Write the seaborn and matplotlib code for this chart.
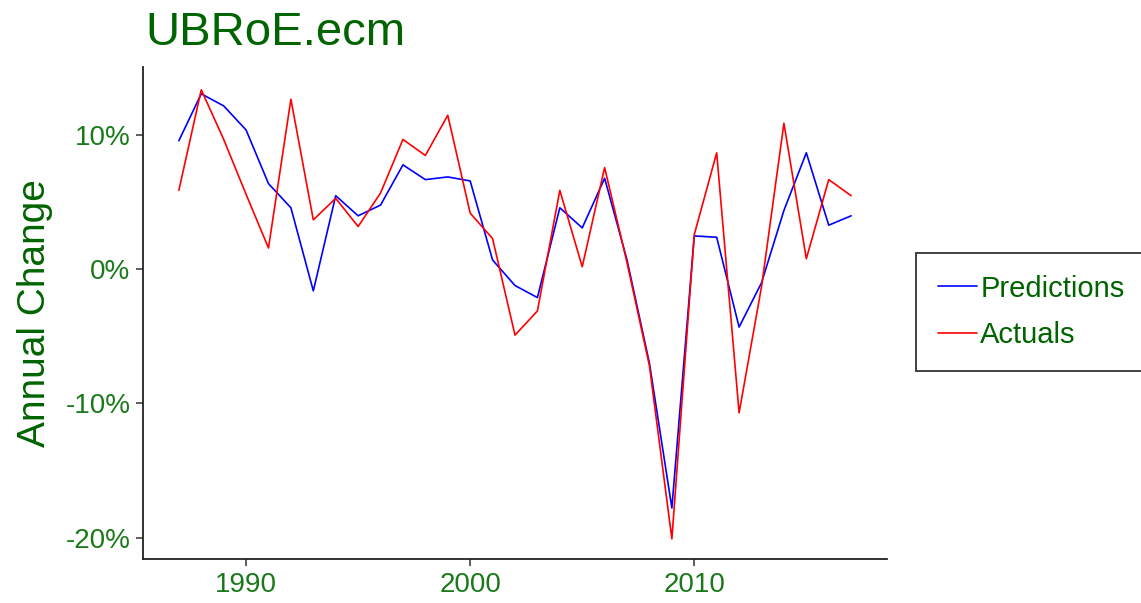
import numpy as np
import pandas as pd
import matplotlib
matplotlib.use("Agg")
import matplotlib.pyplot as plt
import matplotlib.ticker as mticker
import seaborn as sns
from matplotlib.lines import Line2D

years = list(range(1987, 2018))
predictions = [9.6, 13.1, 12.2, 10.4, 6.4, 4.6, -1.6, 5.5, 4.0, 4.8,
               7.8, 6.7, 6.9, 6.6, 0.7, -1.2, -2.1, 4.6, 3.1, 6.8,
               0.7, -7.0, -17.8, 2.5, 2.4, -4.3, -1.0, 4.4, 8.7, 3.3, 4.0]
actuals = [5.9, 13.4, 9.7, 5.6, 1.6, 12.7, 3.7, 5.3, 3.2, 5.7,
           9.7, 8.5, 11.5, 4.2, 2.3, -4.9, -3.1, 5.9, 0.2, 7.6,
           0.5, -7.2, -20.1, 2.6, 8.7, -10.7, -1.3, 10.9, 0.8, 6.7, 5.5]
series_names = ["Predictions", "Actuals"]
y_ticks = [-20, -10, 0, 10]

df = pd.DataFrame({
    "Year": years * 2,
    "Value": predictions + actuals,
    "Series": [series_names[0]] * len(years) + [series_names[1]] * len(years),
})

sns.set_theme(style="white")
plt.rcParams['font.family'] = ['Liberation Sans', 'DejaVu Sans']

title_green = "#006400"
tick_green = "#1a7a1a"

fig = plt.figure(figsize=(11.41, 6.03), dpi=100)
ax = fig.add_axes([143 / 1141, 44 / 603, (887 - 143) / 1141, (559 - 67) / 603])

sns.lineplot(data=df, x="Year", y="Value", hue="Series",
             palette={"Predictions": "blue", "Actuals": "red"},
             hue_order=series_names, linewidth=1.2, ax=ax, legend=False)

ax.set_xlim(1985.4, 2018.6)
ax.set_ylim(-21.6, 15.1)
ax.set_xticks([1990, 2000, 2010])
ax.set_yticks(y_ticks)
ax.yaxis.set_major_formatter(mticker.FuncFormatter(lambda v, p: f"{int(v)}%"))

for s in ["top", "right"]:
    ax.spines[s].set_visible(False)
for s in ["left", "bottom"]:
    ax.spines[s].set_color("#222222")
    ax.spines[s].set_linewidth(1.3)

ax.tick_params(axis="both", which="major", direction="out", length=5, width=1.1,
               color="#333333", labelsize=20, labelcolor=tick_green, pad=4,
               bottom=True, left=True)

ax.set_xlabel("")
ax.set_ylabel("Annual Change", fontsize=28, color=title_green, labelpad=9)

fig.text(145 / 1141, 1 - 33 / 603, "UBRoE.ecm", fontsize=34, color=title_green,
         ha="left", va="center")

handles = [Line2D([0], [0], color="blue", lw=1.2), Line2D([0], [0], color="red", lw=1.2)]
leg = fig.legend(handles, series_names, loc="center left",
                 bbox_to_anchor=(916 / 1141, 1 - 312 / 603),
                 fontsize=21, frameon=True, fancybox=False,
                 handlelength=1.35, handletextpad=0.1, labelspacing=0.65,
                 borderpad=0.75, borderaxespad=0)
leg.get_frame().set_edgecolor("black")
leg.get_frame().set_linewidth(1.3)
for t in leg.get_texts():
    t.set_color(title_green)

fig.savefig("out.png", dpi=100)
